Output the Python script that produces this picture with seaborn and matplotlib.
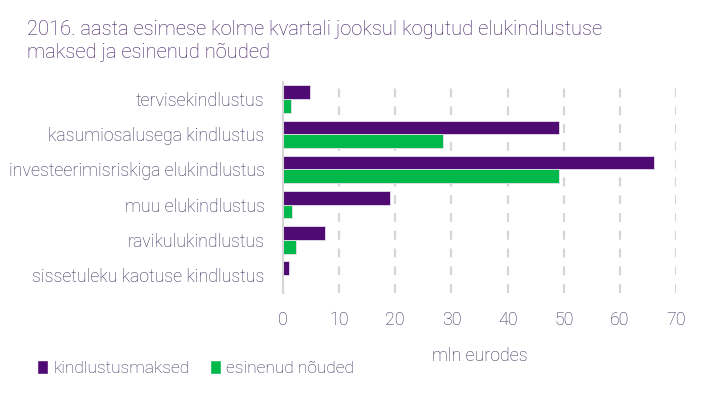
import pandas as pd
import numpy as np
import matplotlib
matplotlib.use('Agg')
import matplotlib.pyplot as plt
from matplotlib.patches import Patch
from matplotlib.ticker import FixedLocator
import seaborn as sns

sns.set_style("white")
plt.rcParams['font.family'] = ['Roboto', 'DejaVu Sans']
plt.rcParams['font.weight'] = 'light'
plt.rcParams['axes.labelweight'] = 'light'

# ========== andmed ==========
kategooriad = ['tervisekindlustus', 'kasumiosalusega kindlustus',
               'investeerimisriskiga elukindlustus', 'muu elukindlustus',
               'ravikulukindlustus', 'sissetuleku kaotuse kindlustus']
maksed = [4.9, 49.1, 66.0, 19.1, 7.6, 1.1]
nouded = [1.5, 28.5, 49.1, 1.6, 2.4, 0.1]
seeriad = ['kindlustusmaksed', 'esinenud nõuded']
varvid = ['#4f0a73', '#00b94a']

TEXT_COL = '#342b58'
TITLE_COL = '#3a1860'
GRID_COL = '#d6d6d6'

df = pd.DataFrame({
    'kategooria': kategooriad * 2,
    'vaartus': maksed + nouded,
    'seeria': [seeriad[0]] * len(kategooriad) + [seeriad[1]] * len(kategooriad),
})

fig = plt.figure(figsize=(7.26, 3.98), dpi=100)
ax = fig.add_axes([0.3895, 0.265, 0.542, 0.53])

sns.barplot(data=df, y='kategooria', x='vaartus', hue='seeria', orient='h',
            palette=varvid, saturation=1, order=kategooriad, hue_order=seeriad,
            width=0.78, edgecolor='#e6e0ea', linewidth=0.6, ax=ax, legend=False)

ax.set_xlim(0, 70)
ax.set_ylim(len(kategooriad) - 0.5, -0.5)
ax.set_xticks(range(0, 71, 10))
ax.xaxis.grid(True, color=GRID_COL, linestyle=(0, (4, 4)), linewidth=1.6)
ax.set_axisbelow(True)

for s in ['top', 'right', 'bottom']:
    ax.spines[s].set_visible(False)
ax.spines['left'].set_color(GRID_COL)
ax.spines['left'].set_linewidth(1.5)

ax.tick_params(axis='x', length=0, pad=13, labelsize=12.8, labelcolor=TEXT_COL)
ax.tick_params(axis='y', which='major', length=0, pad=13, labelsize=12.8,
               labelcolor=TEXT_COL)
ax.yaxis.set_minor_locator(FixedLocator(np.arange(-0.5, len(kategooriad), 1)))
ax.tick_params(axis='y', which='minor', length=5, width=1.5, color=GRID_COL)

ax.set_ylabel('')
ax.set_xlabel('mln eurodes', fontsize=12.8, color=TEXT_COL, labelpad=13)

fig.text(0.037, 0.925, '2016. aasta esimese kolme kvartali jooksul kogutud elukindlustuse',
         fontsize=14.5, color=TITLE_COL, va='center')
fig.text(0.037, 0.868, 'maksed ja esinenud nõuded',
         fontsize=14.5, color=TITLE_COL, va='center')

handles = [Patch(facecolor=c, label=l) for c, l in zip(varvid, seeriad)]
fig.legend(handles=handles, loc='center left', bbox_to_anchor=(0.03, 0.075),
           ncol=2, frameon=False, fontsize=12.5, labelcolor=TEXT_COL,
           handlelength=0.6, handleheight=0.8, handletextpad=0.3,
           columnspacing=1.2)

plt.savefig('out.png', dpi=100)
plt.close()
